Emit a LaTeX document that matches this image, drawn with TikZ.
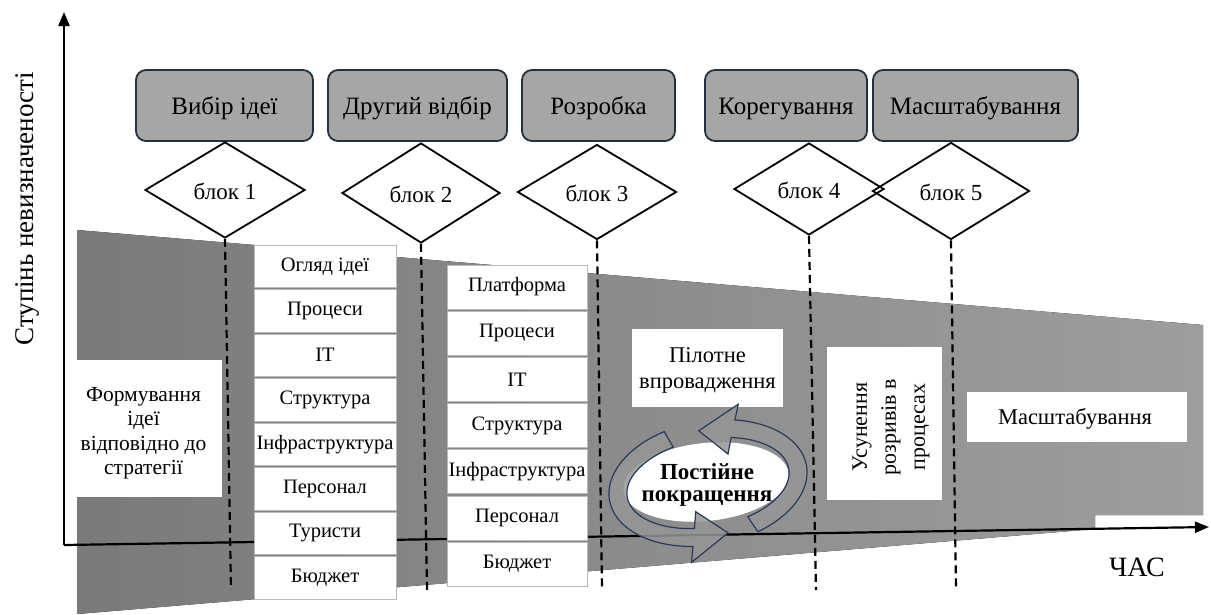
\documentclass[tikz,border=0pt]{standalone}
\usepackage{fontspec}
\setmainfont{Liberation Serif}
\usetikzlibrary{shapes.geometric,arrows.meta}
\definecolor{funnelL}{RGB}{122,122,122}
\definecolor{funnelR}{RGB}{158,158,158}
\definecolor{boxfill}{RGB}{166,166,166}
\definecolor{boxline}{RGB}{35,48,64}
\definecolor{cycline}{RGB}{40,58,92}
\definecolor{cycfill}{RGB}{150,150,150}
\tikzset{
  topbox/.style={draw=boxline, fill=boxfill, line width=1.8pt, rounded corners=10pt, inner sep=0pt, text height=17pt, text depth=0pt, font=\fontsize{25}{28}\selectfont},
  blockd/.style={draw=black, line width=1.8pt, diamond, inner sep=0pt, text height=19pt, text depth=0pt, font=\fontsize{23}{26}\selectfont},
  cell/.style={draw=gray!55, fill=white, line width=0.8pt, inner sep=0pt, font=\fontsize{20.5}{24}\selectfont},
  wbox/.style={fill=white, inner sep=0pt},
  wtext/.style={inner sep=0pt, align=center},
  dline/.style={line width=2.2pt, dash pattern=on 8pt off 5pt},
  axisline/.style={line width=2.2pt, -{Triangle[length=14pt,width=11pt]}},
  cyc/.style={draw=cycline, fill=cycfill, fill opacity=0.85, line width=1.2pt}
}
\begin{document}
\begin{tikzpicture}[x=1pt,y=-1pt]
\useasboundingbox (0,0) rectangle (1211,614);
% uncertainty funnel
\fill[left color=funnelL, right color=funnelR] (77,230) -- (1203,325) -- (1203,515) -- (1095,515) -- (1095,529) -- (77,614) -- cycle;

% axes
\coordinate (o) at (64,545);
\coordinate (ytop) at (64,12);
\coordinate (xend) at (1209,527);
\draw[axisline] (o) -- (ytop);
\draw[axisline] (o) -- (xend);
\node[rotate=90, font=\fontsize{27}{30}\selectfont] (ylab) at (27,209) {Ступінь невизначеності};
\node[font=\fontsize{28}{30}\selectfont] (xlab) at (1137,567) {ЧАС};

% top boxes
\node[topbox, minimum width=177pt, minimum height=71pt] (b1) at (224.5,105.5) {Вибір ідеї};
\node[topbox, minimum width=179pt, minimum height=71pt] (b2) at (417.5,105.5) {Другий відбір};
\node[topbox, minimum width=153pt, minimum height=71pt] (b3) at (598.5,105.5) {Розробка};
\node[topbox, minimum width=162pt, minimum height=71pt] (b4) at (786,105.5) {Корегування};
\node[topbox, minimum width=205pt, minimum height=71pt] (b5) at (975.5,105.5) {Масштабування};

% diamonds
\node[blockd, minimum width=160pt, minimum height=96pt] (d1) at (225,190) {блок 1};
\node[blockd, minimum width=158pt, minimum height=100pt] (d2) at (421,193) {блок 2};
\node[blockd, minimum width=159pt, minimum height=95pt] (d3) at (597,192) {блок 3};
\node[blockd, minimum width=150pt, minimum height=92pt] (d4) at (809,189) {блок 4};
\node[blockd, minimum width=157pt, minimum height=97pt] (d5) at (951,191) {блок 5};

% dashed time marks
\coordinate (e1) at (231,590);
\coordinate (e2) at (427,590);
\coordinate (e3) at (602,590);
\coordinate (e4) at (816,590);
\coordinate (e5) at (956,590);
\draw[dline] (d1.south) -- (e1);
\draw[dline] (d2.south) -- (e2);
\draw[dline] (d3.south) -- (e3);
\draw[dline] (d4.south) -- (e4);
\draw[dline] (d5.south) -- (e5);

% table 1
\foreach \t [count=\i from 0] in {Огляд ідеї, Процеси, IT, Структура, Інфраструктура, Персонал, Туристи, Бюджет}
  \node[cell, minimum width=142pt, minimum height=42.5pt] (ta\i) at (325,{266.25+44.5*\i}) {\t};
% table 2
\foreach \t [count=\i from 0] in {Платформа, Процеси, IT, Структура, Інфраструктура, Персонал, Бюджет}
  \node[cell, minimum width=140pt, minimum height=44pt] (tb\i) at (517,{287+46.2*\i}) {\t};

% white text boxes
\node[wbox, minimum width=157pt, minimum height=137pt] (form) at (143.5,428.5) {};
\node[wtext, font=\fontsize{21.5}{24.5}\selectfont] (formt) at (143.5,433) {Формування\\ідеї\\відповідно до\\стратегії};
\node[wbox, minimum width=151pt, minimum height=78pt] (pilot) at (707.5,368) {};
\node[wtext, font=\fontsize{22.5}{26}\selectfont] (pilott) at (707.5,370) {Пілотне\\впровадження};
\node[wbox, minimum width=115pt, minimum height=153pt] (fix) at (884.5,423.5) {};
\node[wtext, rotate=90, font=\fontsize{22}{29}\selectfont] (fixt) at (891,427) {Усунення\\розривів в\\процесах};
\node[wbox, minimum width=220pt, minimum height=50pt] (scale) at (1077,417) {};
\node[wtext, font=\fontsize{22.5}{26}\selectfont] (scalet) at (1075,419) {Масштабування};

% continuous improvement cycle
\node[ellipse, fill=white, inner sep=0pt, minimum width=166pt, minimum height=78pt, rotate=6] (blob) at (706,482) {};
\node[wtext, font=\bfseries\fontsize{23}{22}\selectfont] (blobt) at (707,485) {Постійне\\покращення};
\begin{scope}[shift={(708,483)}, rotate=10]
\filldraw[cyc] plot[domain=250:105, samples=40] ({100*cos(\x)},{62*sin(\x)})
  -- ({116*cos(105)},{78*sin(105)}) -- ({91*cos(83)},{53*sin(83)}) -- ({66*cos(105)},{27*sin(105)})
  -- plot[domain=105:250, samples=40] ({82*cos(\x)},{44*sin(\x)}) -- cycle;
\filldraw[cyc] plot[domain=66:-68, samples=40] ({100*cos(\x)},{62*sin(\x)})
  -- ({116*cos(-68)},{78*sin(-68)}) -- ({91*cos(-90)},{53*sin(-90)}) -- ({66*cos(-68)},{27*sin(-68)})
  -- plot[domain=-68:66, samples=40] ({82*cos(\x)},{44*sin(\x)}) -- cycle;
\end{scope}
\end{tikzpicture}
\end{document}
